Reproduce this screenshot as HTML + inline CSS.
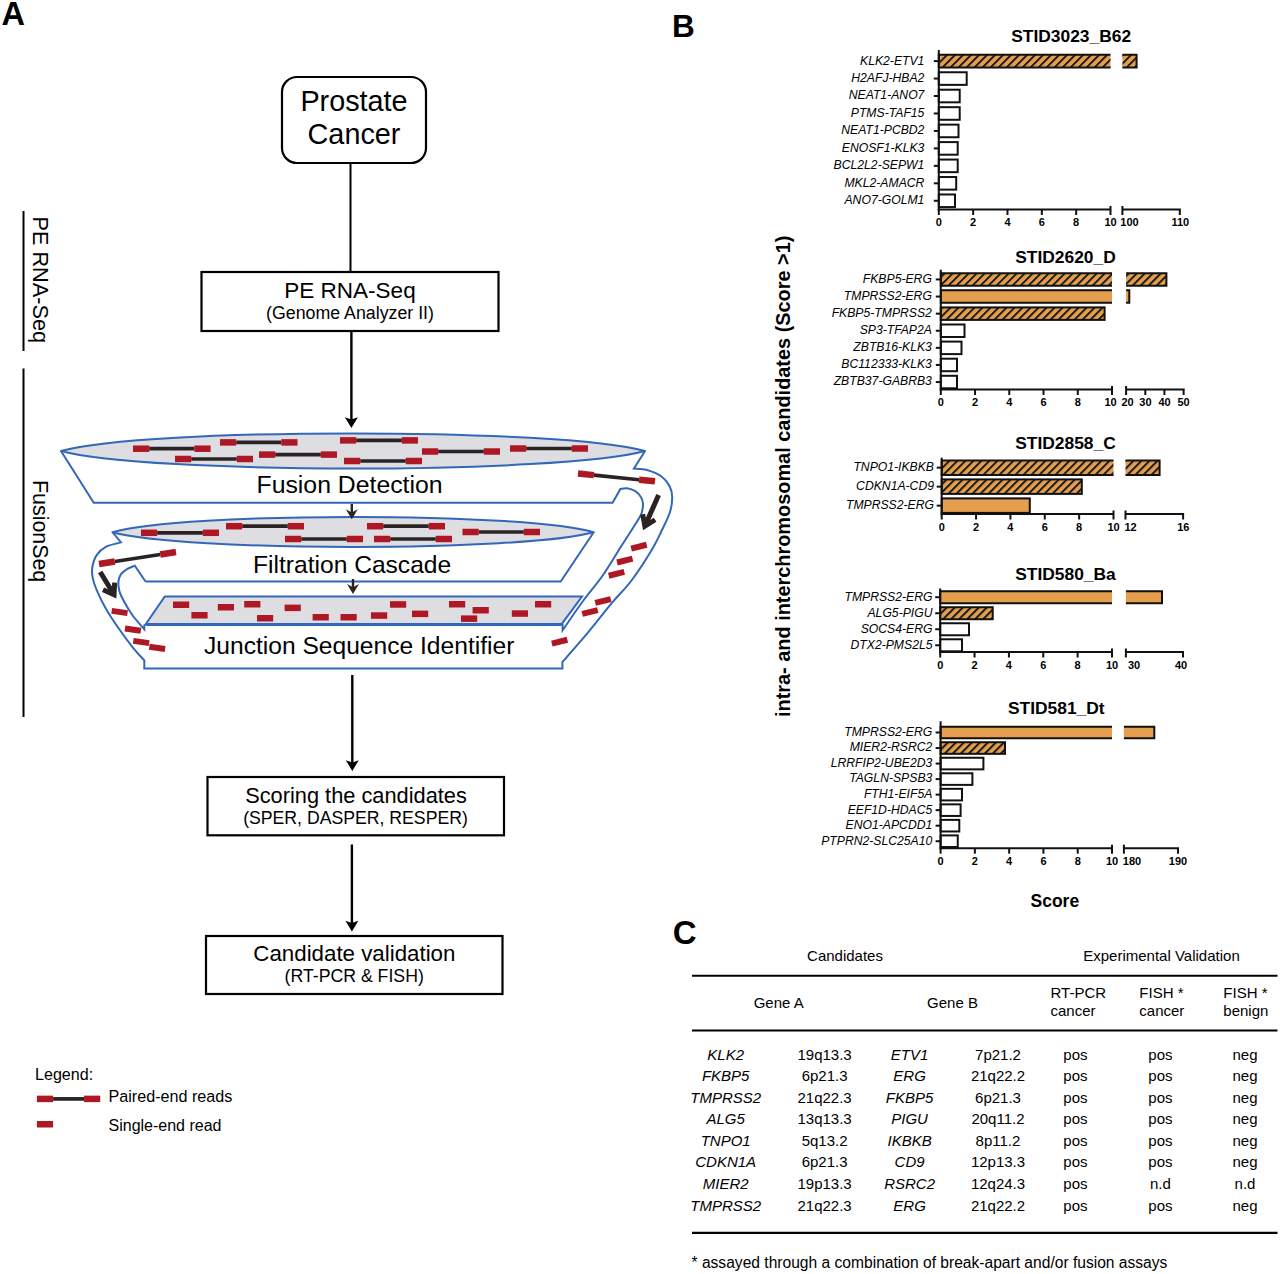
<!DOCTYPE html>
<html><head><meta charset="utf-8"><style>
html,body{margin:0;padding:0;background:#fff;}
svg{display:block;}
text{font-family:"Liberation Sans",sans-serif;}
.b{font-weight:bold;}
.i{font-style:italic;}
</style></head><body>
<svg width="1280" height="1274" viewBox="0 0 1280 1274">
<defs>
<pattern id="hatch" patternUnits="userSpaceOnUse" width="5.66" height="8" patternTransform="rotate(45)">
<rect width="5.66" height="8" fill="#e59e4e"/>
<rect x="0" y="0" width="2" height="8" fill="#1a1a1a"/>
</pattern>
</defs>

<text x="1.5" y="24.5" class="b" font-size="32.5">A</text>
<line x1="23.5" y1="211" x2="23.5" y2="351" stroke="#000" stroke-width="2"/>
<line x1="23.5" y1="368.5" x2="23.5" y2="717" stroke="#000" stroke-width="2"/>
<text transform="translate(33,216.5) rotate(90)" font-size="21.7">PE RNA-Seq</text>
<text transform="translate(32.5,480) rotate(90)" font-size="21.4">FusionSeq</text>
<rect x="282" y="77" width="144" height="86" rx="15" ry="15" fill="#fff" stroke="#000" stroke-width="2.2"/>
<text x="354" y="110.5" font-size="28.8" text-anchor="middle">Prostate</text>
<text x="354" y="144" font-size="28.8" text-anchor="middle">Cancer</text>
<line x1="350.5" y1="163" x2="350.5" y2="272" stroke="#000" stroke-width="2"/>
<rect x="201.5" y="272" width="297" height="59" fill="#fff" stroke="#000" stroke-width="2.2"/>
<text x="350" y="298" font-size="22.5" text-anchor="middle">PE RNA-Seq</text>
<text x="350" y="318.75" font-size="17.77" text-anchor="middle">(Genome Analyzer II)</text>
<line x1="351.4" y1="331" x2="351.4" y2="424" stroke="#000" stroke-width="2.4"/>
<path d="M344.9,417.2 L351.4,428 L357.9,417.2 L351.4,419.5 Z" fill="#000"/>
<path d="M61,451 L93.75,502.75 L612.6,502.75 L620.4,489 C621.50,488.87 624.52,487.83 627.00,488.20 C629.48,488.57 632.93,489.65 635.30,491.20 C637.67,492.75 639.92,495.37 641.20,497.50 C642.48,499.63 642.83,501.83 643.00,504.00 C643.17,506.17 642.83,508.17 642.20,510.50 C641.57,512.83 642.70,512.03 639.20,518.00 C635.70,523.97 627.28,536.72 621.20,546.30 C615.12,555.88 609.07,566.38 602.70,575.50 C596.33,584.62 589.68,591.87 583.00,601.00 C576.32,610.13 566.00,625.42 562.60,630.30 L562.6,623.8" fill="none" stroke="#3367b8" stroke-width="2" stroke-linejoin="miter"/>
<path d="M644.6,451.7 L633.8,468.6 C636.00,468.83 642.38,468.68 647.00,470.00 C651.62,471.32 657.75,473.83 661.50,476.50 C665.25,479.17 667.72,482.58 669.50,486.00 C671.28,489.42 672.12,492.67 672.20,497.00 C672.28,501.33 671.70,506.50 670.00,512.00 C668.30,517.50 665.05,523.67 662.00,530.00 C658.95,536.33 656.78,541.58 651.70,550.00 C646.62,558.42 638.10,571.72 631.50,580.50 C624.90,589.28 619.40,593.97 612.10,602.70 C604.80,611.43 595.98,623.02 587.70,632.90 C579.42,642.78 566.62,657.15 562.40,662.00 L562.4,668.5 L144.3,668.5 L144.3,660.4 C142.37,658.22 136.75,652.32 132.70,647.30 C128.65,642.28 124.42,636.65 120.00,630.30 C115.58,623.95 110.08,615.90 106.20,609.20 C102.32,602.50 98.97,595.40 96.70,590.10 C94.43,584.80 93.32,581.28 92.60,577.40 C91.88,573.52 91.72,570.52 92.40,566.80 C93.08,563.08 94.40,558.45 96.70,555.10 C99.00,551.75 102.15,548.82 106.20,546.70 C110.25,544.58 118.53,543.12 121.00,542.40 L112.5,532.2" fill="none" stroke="#3367b8" stroke-width="2" stroke-linejoin="miter"/>
<path d="M145.7,581.7 L134.8,565.7 C133.57,566.23 129.70,567.48 127.40,568.90 C125.10,570.32 122.50,572.08 121.00,574.20 C119.50,576.32 118.67,578.78 118.40,581.60 C118.13,584.42 118.43,587.75 119.40,591.10 C120.37,594.45 121.98,597.63 124.20,601.70 C126.42,605.77 129.35,610.90 132.70,615.50 C136.05,620.10 142.37,627.00 144.30,629.30 L144.3,624.4" fill="none" stroke="#3367b8" stroke-width="2" stroke-linejoin="miter"/>
<path d="M593.7,532.3 L560.7,581.5 L145.7,581.5" fill="none" stroke="#3367b8" stroke-width="2" stroke-linejoin="miter"/>
<path d="M61,451 C146,427.5 560,427.5 645,451 C560,474.3 146,474.3 61,451 Z" fill="#dedee2" stroke="#3367b8" stroke-width="2" stroke-linejoin="round"/>
<path d="M112.5,532.3 C182.5,511.79999999999995 523.7,511.79999999999995 593.7,532.3 C523.7,551.8 182.5,551.8 112.5,532.3 Z" fill="#dedee2" stroke="#3367b8" stroke-width="2" stroke-linejoin="round"/>
<path d="M164.8,596.5 L582,596.5 L561.6,624.2 L145.7,624.2 Z" fill="#dedee2" stroke="#3367b8" stroke-width="2"/>
<line x1="145.7" y1="624.5" x2="561.6" y2="624.5" stroke="#3367b8" stroke-width="3"/>
<line x1="149.2" y1="448.7" x2="194.4" y2="448.7" stroke="#2a2324" stroke-width="3.7"/>
<rect x="133" y="445.45" width="16.2" height="6.5" fill="#ae1825"/>
<rect x="194.4" y="445.45" width="16.2" height="6.5" fill="#ae1825"/>
<line x1="191.2" y1="459" x2="236.8" y2="459" stroke="#2a2324" stroke-width="3.7"/>
<rect x="175" y="455.75" width="16.2" height="6.5" fill="#ae1825"/>
<rect x="236.8" y="455.75" width="16.2" height="6.5" fill="#ae1825"/>
<line x1="236.2" y1="442.4" x2="281.3" y2="442.4" stroke="#2a2324" stroke-width="3.7"/>
<rect x="220" y="439.15" width="16.2" height="6.5" fill="#ae1825"/>
<rect x="281.3" y="439.15" width="16.2" height="6.5" fill="#ae1825"/>
<line x1="275.2" y1="454.6" x2="320.8" y2="454.6" stroke="#2a2324" stroke-width="3.7"/>
<rect x="259" y="451.35" width="16.2" height="6.5" fill="#ae1825"/>
<rect x="320.8" y="451.35" width="16.2" height="6.5" fill="#ae1825"/>
<line x1="356.2" y1="440.4" x2="401.8" y2="440.4" stroke="#2a2324" stroke-width="3.7"/>
<rect x="340" y="437.15" width="16.2" height="6.5" fill="#ae1825"/>
<rect x="401.8" y="437.15" width="16.2" height="6.5" fill="#ae1825"/>
<line x1="360.2" y1="461" x2="405.8" y2="461" stroke="#2a2324" stroke-width="3.7"/>
<rect x="344" y="457.75" width="16.2" height="6.5" fill="#ae1825"/>
<rect x="405.8" y="457.75" width="16.2" height="6.5" fill="#ae1825"/>
<line x1="438.2" y1="451.5" x2="483.8" y2="451.5" stroke="#2a2324" stroke-width="3.7"/>
<rect x="422" y="448.25" width="16.2" height="6.5" fill="#ae1825"/>
<rect x="483.8" y="448.25" width="16.2" height="6.5" fill="#ae1825"/>
<line x1="526.2" y1="448.5" x2="571.8" y2="448.5" stroke="#2a2324" stroke-width="3.7"/>
<rect x="510" y="445.25" width="16.2" height="6.5" fill="#ae1825"/>
<rect x="571.8" y="445.25" width="16.2" height="6.5" fill="#ae1825"/>
<line x1="157.2" y1="532.8" x2="202.8" y2="532.8" stroke="#2a2324" stroke-width="3.7"/>
<rect x="141" y="529.55" width="16.2" height="6.5" fill="#ae1825"/>
<rect x="202.8" y="529.55" width="16.2" height="6.5" fill="#ae1825"/>
<line x1="242.2" y1="526.2" x2="287.8" y2="526.2" stroke="#2a2324" stroke-width="3.7"/>
<rect x="226" y="522.95" width="16.2" height="6.5" fill="#ae1825"/>
<rect x="287.8" y="522.95" width="16.2" height="6.5" fill="#ae1825"/>
<line x1="301.2" y1="539" x2="346.8" y2="539" stroke="#2a2324" stroke-width="3.7"/>
<rect x="285" y="535.75" width="16.2" height="6.5" fill="#ae1825"/>
<rect x="346.8" y="535.75" width="16.2" height="6.5" fill="#ae1825"/>
<line x1="383.2" y1="526.2" x2="428.8" y2="526.2" stroke="#2a2324" stroke-width="3.7"/>
<rect x="367" y="522.95" width="16.2" height="6.5" fill="#ae1825"/>
<rect x="428.8" y="522.95" width="16.2" height="6.5" fill="#ae1825"/>
<line x1="390.2" y1="539" x2="435.8" y2="539" stroke="#2a2324" stroke-width="3.7"/>
<rect x="374" y="535.75" width="16.2" height="6.5" fill="#ae1825"/>
<rect x="435.8" y="535.75" width="16.2" height="6.5" fill="#ae1825"/>
<line x1="478.7" y1="532" x2="523.8" y2="532" stroke="#2a2324" stroke-width="3.7"/>
<rect x="462.5" y="528.75" width="16.2" height="6.5" fill="#ae1825"/>
<rect x="523.8" y="528.75" width="16.2" height="6.5" fill="#ae1825"/>
<rect x="173" y="601.5" width="16.2" height="6.5" fill="#ae1825"/>
<rect x="191.4" y="612" width="16.2" height="6.5" fill="#ae1825"/>
<rect x="217.8" y="604" width="16.2" height="6.5" fill="#ae1825"/>
<rect x="244.2" y="601" width="16.2" height="6.5" fill="#ae1825"/>
<rect x="257" y="615" width="16.2" height="6.5" fill="#ae1825"/>
<rect x="284.6" y="604.6" width="16.2" height="6.5" fill="#ae1825"/>
<rect x="312.6" y="614" width="16.2" height="6.5" fill="#ae1825"/>
<rect x="340.5" y="614" width="16.2" height="6.5" fill="#ae1825"/>
<rect x="371" y="612.3" width="16.2" height="6.5" fill="#ae1825"/>
<rect x="390" y="601.2" width="16.2" height="6.5" fill="#ae1825"/>
<rect x="412" y="610.6" width="16.2" height="6.5" fill="#ae1825"/>
<rect x="449" y="601" width="16.2" height="6.5" fill="#ae1825"/>
<rect x="472.6" y="607" width="16.2" height="6.5" fill="#ae1825"/>
<rect x="461" y="615.4" width="16.2" height="6.5" fill="#ae1825"/>
<rect x="511.8" y="610.3" width="16.2" height="6.5" fill="#ae1825"/>
<rect x="535" y="601" width="16.2" height="6.5" fill="#ae1825"/>
<rect x="-8.0" y="-3.0" width="16" height="6" fill="#ae1825" transform="translate(638.9,546.7) rotate(-14)"/>
<rect x="-8.0" y="-3.0" width="16" height="6" fill="#ae1825" transform="translate(624.8,560.6) rotate(-14)"/>
<rect x="-8.0" y="-3.0" width="16" height="6" fill="#ae1825" transform="translate(616.5,573.8) rotate(-14)"/>
<rect x="-8.0" y="-3.0" width="16" height="6" fill="#ae1825" transform="translate(603,601) rotate(-14)"/>
<rect x="-8.0" y="-3.0" width="16" height="6" fill="#ae1825" transform="translate(590,612) rotate(-14)"/>
<rect x="-8.0" y="-3.0" width="16" height="6" fill="#ae1825" transform="translate(559.6,641.7) rotate(-14)"/>
<rect x="-8.0" y="-3.0" width="16" height="6" fill="#ae1825" transform="translate(119.6,612) rotate(8)"/>
<rect x="-8.0" y="-3.0" width="16" height="6" fill="#ae1825" transform="translate(132.9,629.6) rotate(8)"/>
<rect x="-8.0" y="-3.0" width="16" height="6" fill="#ae1825" transform="translate(141.2,642) rotate(8)"/>
<rect x="-8.0" y="-3.0" width="16" height="6" fill="#ae1825" transform="translate(157.2,647.8) rotate(8)"/>
<g transform="translate(578,473.5) rotate(5.78)"><line x1="16" y1="0" x2="61.39405661935547" y2="0" stroke="#2a2324" stroke-width="3.6"/><rect x="0" y="-3.25" width="16" height="6.5" fill="#ae1825"/><rect x="61.39405661935547" y="-3.25" width="16" height="6.5" fill="#ae1825"/></g>
<g transform="translate(99,564) rotate(-8.86)"><line x1="16" y1="0" x2="61.929455278476055" y2="0" stroke="#2a2324" stroke-width="3.6"/><rect x="0" y="-3.25" width="16" height="6.5" fill="#ae1825"/><rect x="61.929455278476055" y="-3.25" width="16" height="6.5" fill="#ae1825"/></g>
<g transform="translate(658.6,495) rotate(113.74)"><line x1="0" y1="0" x2="32.05332199952108" y2="0" stroke="#2a2324" stroke-width="5"/><path d="M24.05332199952108,-6.8 L34.05332199952108,0 L24.05332199952108,6.8" fill="none" stroke="#2a2324" stroke-width="5" stroke-linejoin="miter"/></g>
<g transform="translate(100.2,572) rotate(58.71)"><line x1="0" y1="0" x2="24.64124662275355" y2="0" stroke="#2a2324" stroke-width="5"/><path d="M16.64124662275355,-6.8 L26.64124662275355,0 L16.64124662275355,6.8" fill="none" stroke="#2a2324" stroke-width="5" stroke-linejoin="miter"/></g>
<text x="256.5" y="492.5" font-size="24.8">Fusion Detection</text>
<text x="253" y="573" font-size="24.6">Filtration Cascade</text>
<text x="204" y="653.6" font-size="24.6">Junction Sequence Identifier</text>
<line x1="351.8" y1="504" x2="351.8" y2="515.3" stroke="#2a2324" stroke-width="2.4"/>
<path d="M345.8,509.29999999999995 L351.8,519.3 L357.8,509.29999999999995 L351.8,512.5999999999999 Z" fill="#2a2324"/>
<line x1="353" y1="579" x2="353" y2="590" stroke="#2a2324" stroke-width="2.4"/>
<path d="M347,584 L353,594 L359,584 L353,587.3 Z" fill="#2a2324"/>
<line x1="352.3" y1="675" x2="352.3" y2="767" stroke="#000" stroke-width="2.4"/>
<path d="M345.8,760.2 L352.3,771 L358.8,760.2 L352.3,762.5 Z" fill="#000"/>
<rect x="207.5" y="777" width="296.5" height="58.3" fill="#fff" stroke="#000" stroke-width="2.2"/>
<text x="356" y="802.6" font-size="21.8" text-anchor="middle">Scoring the candidates</text>
<text x="355.5" y="823.8" font-size="17.66" text-anchor="middle">(SPER, DASPER, RESPER)</text>
<line x1="351.9" y1="844.5" x2="351.9" y2="927.5" stroke="#000" stroke-width="2.4"/>
<path d="M345.4,920.7 L351.9,931.5 L358.4,920.7 L351.9,923.0 Z" fill="#000"/>
<rect x="206" y="936" width="296.5" height="58" fill="#fff" stroke="#000" stroke-width="2.2"/>
<text x="354.4" y="960.5" font-size="22.3" text-anchor="middle">Candidate validation</text>
<text x="354.2" y="981.5" font-size="17.7" text-anchor="middle">(RT-PCR &amp; FISH)</text>
<text x="35" y="1079.6" font-size="16.1">Legend:</text>
<line x1="53.099999999999994" y1="1098.9" x2="84.05" y2="1098.9" stroke="#2a2324" stroke-width="3.7"/>
<rect x="36.9" y="1095.65" width="16.2" height="6.5" fill="#ae1825"/>
<rect x="84.05" y="1095.65" width="16.2" height="6.5" fill="#ae1825"/>
<rect x="36.9" y="1121" width="16.2" height="6.5" fill="#ae1825"/>
<text x="108.5" y="1101.5" font-size="16.15">Paired-end reads</text>
<text x="108.5" y="1131" font-size="16">Single-end read</text>
<text x="672" y="36.5" class="b" font-size="31.5">B</text>
<text transform="translate(789.6,717) rotate(-90)" class="b" font-size="19.9">intra- and interchromosomal candidates (Score &gt;1)</text>
<text x="1030.5" y="906.7" class="b" font-size="17.5">Score</text>
<text x="1011.2" y="41.9" class="b" font-size="17.4">STID3023_B62</text>
<rect x="938.8" y="54.8" width="171.70000000000005" height="12.6" fill="url(#hatch)"/>
<path d="M1110.5,54.8 L938.8,54.8 L938.8,67.39999999999999 L1110.5,67.39999999999999" fill="none" stroke="#111" stroke-width="2"/>
<rect x="1122.4" y="54.8" width="14.199999999999818" height="12.6" fill="url(#hatch)"/>
<path d="M1122.4,54.8 L1136.6,54.8 L1136.6,67.39999999999999 L1122.4,67.39999999999999" fill="none" stroke="#111" stroke-width="2"/>
<line x1="933.8" y1="61.099999999999994" x2="938.8" y2="61.099999999999994" stroke="#111" stroke-width="2"/>
<text x="924.4" y="64.5" class="i" font-size="12.2" text-anchor="end">KLK2-ETV1</text>
<rect x="938.8" y="72.25999999999999" width="27.90000000000009" height="12.6" fill="#fff" stroke="#111" stroke-width="2"/>
<line x1="933.8" y1="78.55999999999999" x2="938.8" y2="78.55999999999999" stroke="#111" stroke-width="2"/>
<text x="924.4" y="81.96" class="i" font-size="12.2" text-anchor="end">H2AFJ-HBA2</text>
<rect x="938.8" y="89.72" width="20.90000000000009" height="12.6" fill="#fff" stroke="#111" stroke-width="2"/>
<line x1="933.8" y1="96.02" x2="938.8" y2="96.02" stroke="#111" stroke-width="2"/>
<text x="924.4" y="99.42" class="i" font-size="12.2" text-anchor="end">NEAT1-ANO7</text>
<rect x="938.8" y="107.18" width="20.90000000000009" height="12.6" fill="#fff" stroke="#111" stroke-width="2"/>
<line x1="933.8" y1="113.48" x2="938.8" y2="113.48" stroke="#111" stroke-width="2"/>
<text x="924.4" y="116.88000000000001" class="i" font-size="12.2" text-anchor="end">PTMS-TAF15</text>
<rect x="938.8" y="124.64" width="19.700000000000045" height="12.6" fill="#fff" stroke="#111" stroke-width="2"/>
<line x1="933.8" y1="130.94" x2="938.8" y2="130.94" stroke="#111" stroke-width="2"/>
<text x="924.4" y="134.34" class="i" font-size="12.2" text-anchor="end">NEAT1-PCBD2</text>
<rect x="938.8" y="142.10000000000002" width="18.90000000000009" height="12.6" fill="#fff" stroke="#111" stroke-width="2"/>
<line x1="933.8" y1="148.40000000000003" x2="938.8" y2="148.40000000000003" stroke="#111" stroke-width="2"/>
<text x="924.4" y="151.80000000000004" class="i" font-size="12.2" text-anchor="end">ENOSF1-KLK3</text>
<rect x="938.8" y="159.56" width="18.90000000000009" height="12.6" fill="#fff" stroke="#111" stroke-width="2"/>
<line x1="933.8" y1="165.86" x2="938.8" y2="165.86" stroke="#111" stroke-width="2"/>
<text x="924.4" y="169.26000000000002" class="i" font-size="12.2" text-anchor="end">BCL2L2-SEPW1</text>
<rect x="938.8" y="177.01999999999998" width="17.40000000000009" height="12.6" fill="#fff" stroke="#111" stroke-width="2"/>
<line x1="933.8" y1="183.32" x2="938.8" y2="183.32" stroke="#111" stroke-width="2"/>
<text x="924.4" y="186.72" class="i" font-size="12.2" text-anchor="end">MKL2-AMACR</text>
<rect x="938.8" y="194.48000000000002" width="16.200000000000045" height="12.6" fill="#fff" stroke="#111" stroke-width="2"/>
<line x1="933.8" y1="200.78000000000003" x2="938.8" y2="200.78000000000003" stroke="#111" stroke-width="2"/>
<text x="924.4" y="204.18000000000004" class="i" font-size="12.2" text-anchor="end">ANO7-GOLM1</text>
<line x1="938.8" y1="50" x2="938.8" y2="210.5" stroke="#111" stroke-width="2"/>
<line x1="937.8" y1="209.5" x2="1110.5" y2="209.5" stroke="#111" stroke-width="2"/>
<line x1="1122.4" y1="209.5" x2="1180.8" y2="209.5" stroke="#111" stroke-width="2"/>
<line x1="938.8" y1="209.5" x2="938.8" y2="215.0" stroke="#111" stroke-width="2"/>
<text x="938.8" y="226.0" class="b" font-size="11" text-anchor="middle">0</text>
<line x1="973.14" y1="209.5" x2="973.14" y2="215.0" stroke="#111" stroke-width="2"/>
<text x="973.14" y="226.0" class="b" font-size="11" text-anchor="middle">2</text>
<line x1="1007.48" y1="209.5" x2="1007.48" y2="215.0" stroke="#111" stroke-width="2"/>
<text x="1007.48" y="226.0" class="b" font-size="11" text-anchor="middle">4</text>
<line x1="1041.82" y1="209.5" x2="1041.82" y2="215.0" stroke="#111" stroke-width="2"/>
<text x="1041.82" y="226.0" class="b" font-size="11" text-anchor="middle">6</text>
<line x1="1076.16" y1="209.5" x2="1076.16" y2="215.0" stroke="#111" stroke-width="2"/>
<text x="1076.16" y="226.0" class="b" font-size="11" text-anchor="middle">8</text>
<line x1="1110.5" y1="206.0" x2="1110.5" y2="215.0" stroke="#111" stroke-width="2"/>
<text x="1110.5" y="226.0" class="b" font-size="11" text-anchor="middle">10</text>
<line x1="1122.4" y1="206.0" x2="1122.4" y2="215.0" stroke="#111" stroke-width="2"/>
<line x1="1179.8" y1="209.5" x2="1179.8" y2="215.0" stroke="#111" stroke-width="2"/>
<text x="1129.5" y="226.0" class="b" font-size="11" text-anchor="middle">100</text>
<text x="1180.3" y="226.0" class="b" font-size="11" text-anchor="middle">110</text>
<text x="1015.2" y="263.2" class="b" font-size="17.4">STID2620_D</text>
<rect x="940.8" y="273.2" width="171.20000000000005" height="12.5" fill="url(#hatch)"/>
<path d="M1112,273.2 L940.8,273.2 L940.8,285.7 L1112,285.7" fill="none" stroke="#111" stroke-width="2"/>
<rect x="1126.1" y="273.2" width="40.30000000000018" height="12.5" fill="url(#hatch)"/>
<path d="M1126.1,273.2 L1166.4,273.2 L1166.4,285.7 L1126.1,285.7" fill="none" stroke="#111" stroke-width="2"/>
<line x1="935.8" y1="279.45" x2="940.8" y2="279.45" stroke="#111" stroke-width="2"/>
<text x="931.9" y="282.84999999999997" class="i" font-size="12.2" text-anchor="end">FKBP5-ERG</text>
<rect x="940.8" y="290.3" width="171.20000000000005" height="12.5" fill="#e59e4e"/>
<path d="M1112,290.3 L940.8,290.3 L940.8,302.8 L1112,302.8" fill="none" stroke="#111" stroke-width="2"/>
<rect x="1126.1" y="290.3" width="3.2000000000000455" height="12.5" fill="#e59e4e"/>
<path d="M1126.1,290.3 L1129.3,290.3 L1129.3,302.8 L1126.1,302.8" fill="none" stroke="#111" stroke-width="2"/>
<line x1="935.8" y1="296.55" x2="940.8" y2="296.55" stroke="#111" stroke-width="2"/>
<text x="931.9" y="299.95" class="i" font-size="12.2" text-anchor="end">TMPRSS2-ERG</text>
<rect x="940.8" y="307.4" width="163.79999999999995" height="12.5" fill="url(#hatch)" stroke="#111" stroke-width="2"/>
<line x1="935.8" y1="313.65" x2="940.8" y2="313.65" stroke="#111" stroke-width="2"/>
<text x="931.9" y="317.04999999999995" class="i" font-size="12.2" text-anchor="end">FKBP5-TMPRSS2</text>
<rect x="940.8" y="324.5" width="23.700000000000045" height="12.5" fill="#fff" stroke="#111" stroke-width="2"/>
<line x1="935.8" y1="330.75" x2="940.8" y2="330.75" stroke="#111" stroke-width="2"/>
<text x="931.9" y="334.15" class="i" font-size="12.2" text-anchor="end">SP3-TFAP2A</text>
<rect x="940.8" y="341.6" width="20.700000000000045" height="12.5" fill="#fff" stroke="#111" stroke-width="2"/>
<line x1="935.8" y1="347.85" x2="940.8" y2="347.85" stroke="#111" stroke-width="2"/>
<text x="931.9" y="351.25" class="i" font-size="12.2" text-anchor="end">ZBTB16-KLK3</text>
<rect x="940.8" y="358.7" width="16.200000000000045" height="12.5" fill="#fff" stroke="#111" stroke-width="2"/>
<line x1="935.8" y1="364.95" x2="940.8" y2="364.95" stroke="#111" stroke-width="2"/>
<text x="931.9" y="368.34999999999997" class="i" font-size="12.2" text-anchor="end">BC112333-KLK3</text>
<rect x="940.8" y="375.8" width="16.200000000000045" height="12.5" fill="#fff" stroke="#111" stroke-width="2"/>
<line x1="935.8" y1="382.05" x2="940.8" y2="382.05" stroke="#111" stroke-width="2"/>
<text x="931.9" y="385.45" class="i" font-size="12.2" text-anchor="end">ZBTB37-GABRB3</text>
<line x1="940.8" y1="269.7" x2="940.8" y2="390.5" stroke="#111" stroke-width="2"/>
<line x1="939.8" y1="389.5" x2="1112" y2="389.5" stroke="#111" stroke-width="2"/>
<line x1="1126.1" y1="389.5" x2="1184.6" y2="389.5" stroke="#111" stroke-width="2"/>
<line x1="940.8" y1="389.5" x2="940.8" y2="395.0" stroke="#111" stroke-width="2"/>
<text x="940.8" y="406.0" class="b" font-size="11" text-anchor="middle">0</text>
<line x1="975.04" y1="389.5" x2="975.04" y2="395.0" stroke="#111" stroke-width="2"/>
<text x="975.04" y="406.0" class="b" font-size="11" text-anchor="middle">2</text>
<line x1="1009.28" y1="389.5" x2="1009.28" y2="395.0" stroke="#111" stroke-width="2"/>
<text x="1009.28" y="406.0" class="b" font-size="11" text-anchor="middle">4</text>
<line x1="1043.52" y1="389.5" x2="1043.52" y2="395.0" stroke="#111" stroke-width="2"/>
<text x="1043.52" y="406.0" class="b" font-size="11" text-anchor="middle">6</text>
<line x1="1077.76" y1="389.5" x2="1077.76" y2="395.0" stroke="#111" stroke-width="2"/>
<text x="1077.76" y="406.0" class="b" font-size="11" text-anchor="middle">8</text>
<line x1="1112.0" y1="386.0" x2="1112.0" y2="395.0" stroke="#111" stroke-width="2"/>
<text x="1110.5" y="406.0" class="b" font-size="11" text-anchor="middle">10</text>
<line x1="1126.1" y1="386.0" x2="1126.1" y2="395.0" stroke="#111" stroke-width="2"/>
<line x1="1145.3" y1="389.5" x2="1145.3" y2="395.0" stroke="#111" stroke-width="2"/>
<line x1="1164.4" y1="389.5" x2="1164.4" y2="395.0" stroke="#111" stroke-width="2"/>
<line x1="1183.6" y1="389.5" x2="1183.6" y2="395.0" stroke="#111" stroke-width="2"/>
<text x="1127.5" y="406.0" class="b" font-size="11" text-anchor="middle">20</text>
<text x="1145.4" y="406.0" class="b" font-size="11" text-anchor="middle">30</text>
<text x="1164.6" y="406.0" class="b" font-size="11" text-anchor="middle">40</text>
<text x="1183.6" y="406.0" class="b" font-size="11" text-anchor="middle">50</text>
<text x="1015.2" y="448.75" class="b" font-size="17.4">STID2858_C</text>
<rect x="941.7" y="460.4" width="171.79999999999995" height="14.5" fill="url(#hatch)"/>
<path d="M1113.5,460.4 L941.7,460.4 L941.7,474.9 L1113.5,474.9" fill="none" stroke="#111" stroke-width="2"/>
<rect x="1125.5" y="460.4" width="34.09999999999991" height="14.5" fill="url(#hatch)"/>
<path d="M1125.5,460.4 L1159.6,460.4 L1159.6,474.9 L1125.5,474.9" fill="none" stroke="#111" stroke-width="2"/>
<line x1="936.7" y1="467.65" x2="941.7" y2="467.65" stroke="#111" stroke-width="2"/>
<text x="934.0" y="471.04999999999995" class="i" font-size="12.2" text-anchor="end">TNPO1-IKBKB</text>
<rect x="941.7" y="479.4" width="140.0999999999999" height="14.5" fill="url(#hatch)" stroke="#111" stroke-width="2"/>
<line x1="936.7" y1="486.65" x2="941.7" y2="486.65" stroke="#111" stroke-width="2"/>
<text x="934.0" y="490.04999999999995" class="i" font-size="12.2" text-anchor="end">CDKN1A-CD9</text>
<rect x="941.7" y="498.4" width="88.09999999999991" height="14.5" fill="#e59e4e" stroke="#111" stroke-width="2"/>
<line x1="936.7" y1="505.65" x2="941.7" y2="505.65" stroke="#111" stroke-width="2"/>
<text x="934.0" y="509.04999999999995" class="i" font-size="12.2" text-anchor="end">TMPRSS2-ERG</text>
<line x1="941.7" y1="457.7" x2="941.7" y2="515" stroke="#111" stroke-width="2"/>
<line x1="940.7" y1="514" x2="1113.5" y2="514" stroke="#111" stroke-width="2"/>
<line x1="1125.5" y1="514" x2="1184.1" y2="514" stroke="#111" stroke-width="2"/>
<line x1="941.7" y1="514" x2="941.7" y2="519.5" stroke="#111" stroke-width="2"/>
<text x="941.7" y="530.5" class="b" font-size="11" text-anchor="middle">0</text>
<line x1="976.0600000000001" y1="514" x2="976.0600000000001" y2="519.5" stroke="#111" stroke-width="2"/>
<text x="976.0600000000001" y="530.5" class="b" font-size="11" text-anchor="middle">2</text>
<line x1="1010.4200000000001" y1="514" x2="1010.4200000000001" y2="519.5" stroke="#111" stroke-width="2"/>
<text x="1010.4200000000001" y="530.5" class="b" font-size="11" text-anchor="middle">4</text>
<line x1="1044.78" y1="514" x2="1044.78" y2="519.5" stroke="#111" stroke-width="2"/>
<text x="1044.78" y="530.5" class="b" font-size="11" text-anchor="middle">6</text>
<line x1="1079.14" y1="514" x2="1079.14" y2="519.5" stroke="#111" stroke-width="2"/>
<text x="1079.14" y="530.5" class="b" font-size="11" text-anchor="middle">8</text>
<line x1="1113.5" y1="510.5" x2="1113.5" y2="519.5" stroke="#111" stroke-width="2"/>
<text x="1113.5" y="530.5" class="b" font-size="11" text-anchor="middle">10</text>
<line x1="1125.5" y1="510.5" x2="1125.5" y2="519.5" stroke="#111" stroke-width="2"/>
<line x1="1183.1" y1="514" x2="1183.1" y2="519.5" stroke="#111" stroke-width="2"/>
<text x="1130.5" y="530.5" class="b" font-size="11" text-anchor="middle">12</text>
<text x="1183.3" y="530.5" class="b" font-size="11" text-anchor="middle">16</text>
<text x="1015.2" y="580.2" class="b" font-size="17.4">STID580_Ba</text>
<rect x="940.2" y="591.2" width="171.79999999999995" height="12" fill="#e59e4e"/>
<path d="M1112,591.2 L940.2,591.2 L940.2,603.2 L1112,603.2" fill="none" stroke="#111" stroke-width="2"/>
<rect x="1125.9" y="591.2" width="36.09999999999991" height="12" fill="#e59e4e"/>
<path d="M1125.9,591.2 L1162,591.2 L1162,603.2 L1125.9,603.2" fill="none" stroke="#111" stroke-width="2"/>
<line x1="935.2" y1="597.2" x2="940.2" y2="597.2" stroke="#111" stroke-width="2"/>
<text x="932.5" y="600.6" class="i" font-size="12.2" text-anchor="end">TMPRSS2-ERG</text>
<rect x="940.2" y="607.23" width="52.5" height="12" fill="url(#hatch)" stroke="#111" stroke-width="2"/>
<line x1="935.2" y1="613.23" x2="940.2" y2="613.23" stroke="#111" stroke-width="2"/>
<text x="932.5" y="616.63" class="i" font-size="12.2" text-anchor="end">ALG5-PIGU</text>
<rect x="940.2" y="623.26" width="28.799999999999955" height="12" fill="#fff" stroke="#111" stroke-width="2"/>
<line x1="935.2" y1="629.26" x2="940.2" y2="629.26" stroke="#111" stroke-width="2"/>
<text x="932.5" y="632.66" class="i" font-size="12.2" text-anchor="end">SOCS4-ERG</text>
<rect x="940.2" y="639.2900000000001" width="21.799999999999955" height="12" fill="#fff" stroke="#111" stroke-width="2"/>
<line x1="935.2" y1="645.2900000000001" x2="940.2" y2="645.2900000000001" stroke="#111" stroke-width="2"/>
<text x="932.5" y="648.69" class="i" font-size="12.2" text-anchor="end">DTX2-PMS2L5</text>
<line x1="940.2" y1="588.5" x2="940.2" y2="653" stroke="#111" stroke-width="2"/>
<line x1="939.2" y1="652" x2="1112" y2="652" stroke="#111" stroke-width="2"/>
<line x1="1125.9" y1="652" x2="1184" y2="652" stroke="#111" stroke-width="2"/>
<line x1="940.2" y1="652" x2="940.2" y2="657.5" stroke="#111" stroke-width="2"/>
<text x="940.2" y="668.5" class="b" font-size="11" text-anchor="middle">0</text>
<line x1="974.5600000000001" y1="652" x2="974.5600000000001" y2="657.5" stroke="#111" stroke-width="2"/>
<text x="974.5600000000001" y="668.5" class="b" font-size="11" text-anchor="middle">2</text>
<line x1="1008.9200000000001" y1="652" x2="1008.9200000000001" y2="657.5" stroke="#111" stroke-width="2"/>
<text x="1008.9200000000001" y="668.5" class="b" font-size="11" text-anchor="middle">4</text>
<line x1="1043.28" y1="652" x2="1043.28" y2="657.5" stroke="#111" stroke-width="2"/>
<text x="1043.28" y="668.5" class="b" font-size="11" text-anchor="middle">6</text>
<line x1="1077.64" y1="652" x2="1077.64" y2="657.5" stroke="#111" stroke-width="2"/>
<text x="1077.64" y="668.5" class="b" font-size="11" text-anchor="middle">8</text>
<line x1="1112.0" y1="648.5" x2="1112.0" y2="657.5" stroke="#111" stroke-width="2"/>
<text x="1112.0" y="668.5" class="b" font-size="11" text-anchor="middle">10</text>
<line x1="1125.9" y1="648.5" x2="1125.9" y2="657.5" stroke="#111" stroke-width="2"/>
<line x1="1183" y1="652" x2="1183" y2="657.5" stroke="#111" stroke-width="2"/>
<text x="1134" y="668.5" class="b" font-size="11" text-anchor="middle">30</text>
<text x="1181" y="668.5" class="b" font-size="11" text-anchor="middle">40</text>
<text x="1007.95" y="714.4" class="b" font-size="17.4">STID581_Dt</text>
<rect x="940.6" y="726.7" width="171.39999999999998" height="11.6" fill="#e59e4e"/>
<path d="M1112,726.7 L940.6,726.7 L940.6,738.3000000000001 L1112,738.3000000000001" fill="none" stroke="#111" stroke-width="2"/>
<rect x="1123.9" y="726.7" width="30.399999999999864" height="11.6" fill="#e59e4e"/>
<path d="M1123.9,726.7 L1154.3,726.7 L1154.3,738.3000000000001 L1123.9,738.3000000000001" fill="none" stroke="#111" stroke-width="2"/>
<line x1="935.6" y1="732.5" x2="940.6" y2="732.5" stroke="#111" stroke-width="2"/>
<text x="932.3000000000001" y="735.9" class="i" font-size="12.2" text-anchor="end">TMPRSS2-ERG</text>
<rect x="940.6" y="742.23" width="64.39999999999998" height="11.6" fill="url(#hatch)" stroke="#111" stroke-width="2"/>
<line x1="935.6" y1="748.03" x2="940.6" y2="748.03" stroke="#111" stroke-width="2"/>
<text x="932.3000000000001" y="751.43" class="i" font-size="12.2" text-anchor="end">MIER2-RSRC2</text>
<rect x="940.6" y="757.76" width="42.799999999999955" height="11.6" fill="#fff" stroke="#111" stroke-width="2"/>
<line x1="935.6" y1="763.56" x2="940.6" y2="763.56" stroke="#111" stroke-width="2"/>
<text x="932.3000000000001" y="766.9599999999999" class="i" font-size="12.2" text-anchor="end">LRRFIP2-UBE2D3</text>
<rect x="940.6" y="773.2900000000001" width="31.799999999999955" height="11.6" fill="#fff" stroke="#111" stroke-width="2"/>
<line x1="935.6" y1="779.09" x2="940.6" y2="779.09" stroke="#111" stroke-width="2"/>
<text x="932.3000000000001" y="782.49" class="i" font-size="12.2" text-anchor="end">TAGLN-SPSB3</text>
<rect x="940.6" y="788.82" width="21.399999999999977" height="11.6" fill="#fff" stroke="#111" stroke-width="2"/>
<line x1="935.6" y1="794.62" x2="940.6" y2="794.62" stroke="#111" stroke-width="2"/>
<text x="932.3000000000001" y="798.02" class="i" font-size="12.2" text-anchor="end">FTH1-EIF5A</text>
<rect x="940.6" y="804.35" width="20.0" height="11.6" fill="#fff" stroke="#111" stroke-width="2"/>
<line x1="935.6" y1="810.15" x2="940.6" y2="810.15" stroke="#111" stroke-width="2"/>
<text x="932.3000000000001" y="813.55" class="i" font-size="12.2" text-anchor="end">EEF1D-HDAC5</text>
<rect x="940.6" y="819.88" width="18.699999999999932" height="11.6" fill="#fff" stroke="#111" stroke-width="2"/>
<line x1="935.6" y1="825.68" x2="940.6" y2="825.68" stroke="#111" stroke-width="2"/>
<text x="932.3000000000001" y="829.0799999999999" class="i" font-size="12.2" text-anchor="end">ENO1-APCDD1</text>
<rect x="940.6" y="835.4100000000001" width="17.149999999999977" height="11.6" fill="#fff" stroke="#111" stroke-width="2"/>
<line x1="935.6" y1="841.21" x2="940.6" y2="841.21" stroke="#111" stroke-width="2"/>
<text x="932.3000000000001" y="844.61" class="i" font-size="12.2" text-anchor="end">PTPRN2-SLC25A10</text>
<line x1="940.6" y1="721.25" x2="940.6" y2="849.2" stroke="#111" stroke-width="2"/>
<line x1="939.6" y1="848.2" x2="1112" y2="848.2" stroke="#111" stroke-width="2"/>
<line x1="1123.9" y1="848.2" x2="1179" y2="848.2" stroke="#111" stroke-width="2"/>
<line x1="940.6" y1="848.2" x2="940.6" y2="853.7" stroke="#111" stroke-width="2"/>
<text x="940.6" y="864.7" class="b" font-size="11" text-anchor="middle">0</text>
<line x1="974.88" y1="848.2" x2="974.88" y2="853.7" stroke="#111" stroke-width="2"/>
<text x="974.88" y="864.7" class="b" font-size="11" text-anchor="middle">2</text>
<line x1="1009.16" y1="848.2" x2="1009.16" y2="853.7" stroke="#111" stroke-width="2"/>
<text x="1009.16" y="864.7" class="b" font-size="11" text-anchor="middle">4</text>
<line x1="1043.44" y1="848.2" x2="1043.44" y2="853.7" stroke="#111" stroke-width="2"/>
<text x="1043.44" y="864.7" class="b" font-size="11" text-anchor="middle">6</text>
<line x1="1077.72" y1="848.2" x2="1077.72" y2="853.7" stroke="#111" stroke-width="2"/>
<text x="1077.72" y="864.7" class="b" font-size="11" text-anchor="middle">8</text>
<line x1="1112.0" y1="844.7" x2="1112.0" y2="853.7" stroke="#111" stroke-width="2"/>
<text x="1112.0" y="864.7" class="b" font-size="11" text-anchor="middle">10</text>
<line x1="1123.9" y1="844.7" x2="1123.9" y2="853.7" stroke="#111" stroke-width="2"/>
<line x1="1178" y1="848.2" x2="1178" y2="853.7" stroke="#111" stroke-width="2"/>
<text x="1132" y="864.7" class="b" font-size="11" text-anchor="middle">180</text>
<text x="1178" y="864.7" class="b" font-size="11" text-anchor="middle">190</text>
<text x="672.8" y="943.8" class="b" font-size="33">C</text>
<text x="845" y="961.25" font-size="15" text-anchor="middle">Candidates</text>
<text x="1161.5" y="960.5" font-size="15" text-anchor="middle">Experimental Validation</text>
<line x1="692" y1="975.75" x2="1277.5" y2="975.75" stroke="#000" stroke-width="2.2"/>
<text x="778.7" y="1008" font-size="15" text-anchor="middle">Gene A</text>
<text x="952.5" y="1007.5" font-size="15" text-anchor="middle">Gene B</text>
<text x="1050.5" y="997.5" font-size="15">RT-PCR</text>
<text x="1050.5" y="1015.5" font-size="15">cancer</text>
<text x="1139.3" y="997.5" font-size="15">FISH *</text>
<text x="1139.3" y="1015.5" font-size="15">cancer</text>
<text x="1223.3" y="997.5" font-size="15">FISH *</text>
<text x="1223.3" y="1015.5" font-size="15">benign</text>
<line x1="692" y1="1030.5" x2="1277.5" y2="1030.5" stroke="#000" stroke-width="2.2"/>
<text x="725.7" y="1059.60" font-size="15" class="i" text-anchor="middle">KLK2</text>
<text x="824.6" y="1059.60" font-size="15" text-anchor="middle">19q13.3</text>
<text x="909.6" y="1059.60" font-size="15" class="i" text-anchor="middle">ETV1</text>
<text x="998" y="1059.60" font-size="15" text-anchor="middle">7p21.2</text>
<text x="1075.4" y="1059.60" font-size="15" text-anchor="middle">pos</text>
<text x="1160.4" y="1059.60" font-size="15" text-anchor="middle">pos</text>
<text x="1245" y="1059.60" font-size="15" text-anchor="middle">neg</text>
<text x="725.7" y="1081.16" font-size="15" class="i" text-anchor="middle">FKBP5</text>
<text x="824.6" y="1081.16" font-size="15" text-anchor="middle">6p21.3</text>
<text x="909.6" y="1081.16" font-size="15" class="i" text-anchor="middle">ERG</text>
<text x="998" y="1081.16" font-size="15" text-anchor="middle">21q22.2</text>
<text x="1075.4" y="1081.16" font-size="15" text-anchor="middle">pos</text>
<text x="1160.4" y="1081.16" font-size="15" text-anchor="middle">pos</text>
<text x="1245" y="1081.16" font-size="15" text-anchor="middle">neg</text>
<text x="725.7" y="1102.72" font-size="15" class="i" text-anchor="middle">TMPRSS2</text>
<text x="824.6" y="1102.72" font-size="15" text-anchor="middle">21q22.3</text>
<text x="909.6" y="1102.72" font-size="15" class="i" text-anchor="middle">FKBP5</text>
<text x="998" y="1102.72" font-size="15" text-anchor="middle">6p21.3</text>
<text x="1075.4" y="1102.72" font-size="15" text-anchor="middle">pos</text>
<text x="1160.4" y="1102.72" font-size="15" text-anchor="middle">pos</text>
<text x="1245" y="1102.72" font-size="15" text-anchor="middle">neg</text>
<text x="725.7" y="1124.28" font-size="15" class="i" text-anchor="middle">ALG5</text>
<text x="824.6" y="1124.28" font-size="15" text-anchor="middle">13q13.3</text>
<text x="909.6" y="1124.28" font-size="15" class="i" text-anchor="middle">PIGU</text>
<text x="998" y="1124.28" font-size="15" text-anchor="middle">20q11.2</text>
<text x="1075.4" y="1124.28" font-size="15" text-anchor="middle">pos</text>
<text x="1160.4" y="1124.28" font-size="15" text-anchor="middle">pos</text>
<text x="1245" y="1124.28" font-size="15" text-anchor="middle">neg</text>
<text x="725.7" y="1145.84" font-size="15" class="i" text-anchor="middle">TNPO1</text>
<text x="824.6" y="1145.84" font-size="15" text-anchor="middle">5q13.2</text>
<text x="909.6" y="1145.84" font-size="15" class="i" text-anchor="middle">IKBKB</text>
<text x="998" y="1145.84" font-size="15" text-anchor="middle">8p11.2</text>
<text x="1075.4" y="1145.84" font-size="15" text-anchor="middle">pos</text>
<text x="1160.4" y="1145.84" font-size="15" text-anchor="middle">pos</text>
<text x="1245" y="1145.84" font-size="15" text-anchor="middle">neg</text>
<text x="725.7" y="1167.40" font-size="15" class="i" text-anchor="middle">CDKN1A</text>
<text x="824.6" y="1167.40" font-size="15" text-anchor="middle">6p21.3</text>
<text x="909.6" y="1167.40" font-size="15" class="i" text-anchor="middle">CD9</text>
<text x="998" y="1167.40" font-size="15" text-anchor="middle">12p13.3</text>
<text x="1075.4" y="1167.40" font-size="15" text-anchor="middle">pos</text>
<text x="1160.4" y="1167.40" font-size="15" text-anchor="middle">pos</text>
<text x="1245" y="1167.40" font-size="15" text-anchor="middle">neg</text>
<text x="725.7" y="1188.96" font-size="15" class="i" text-anchor="middle">MIER2</text>
<text x="824.6" y="1188.96" font-size="15" text-anchor="middle">19p13.3</text>
<text x="909.6" y="1188.96" font-size="15" class="i" text-anchor="middle">RSRC2</text>
<text x="998" y="1188.96" font-size="15" text-anchor="middle">12q24.3</text>
<text x="1075.4" y="1188.96" font-size="15" text-anchor="middle">pos</text>
<text x="1160.4" y="1188.96" font-size="15" text-anchor="middle">n.d</text>
<text x="1245" y="1188.96" font-size="15" text-anchor="middle">n.d</text>
<text x="725.7" y="1210.52" font-size="15" class="i" text-anchor="middle">TMPRSS2</text>
<text x="824.6" y="1210.52" font-size="15" text-anchor="middle">21q22.3</text>
<text x="909.6" y="1210.52" font-size="15" class="i" text-anchor="middle">ERG</text>
<text x="998" y="1210.52" font-size="15" text-anchor="middle">21q22.2</text>
<text x="1075.4" y="1210.52" font-size="15" text-anchor="middle">pos</text>
<text x="1160.4" y="1210.52" font-size="15" text-anchor="middle">pos</text>
<text x="1245" y="1210.52" font-size="15" text-anchor="middle">neg</text>
<line x1="692" y1="1232.8" x2="1277.5" y2="1232.8" stroke="#000" stroke-width="2.2"/>
<text x="691.5" y="1268.3" font-size="15.6">* assayed through a combination of break-apart and/or fusion assays</text>
</svg></body></html>
